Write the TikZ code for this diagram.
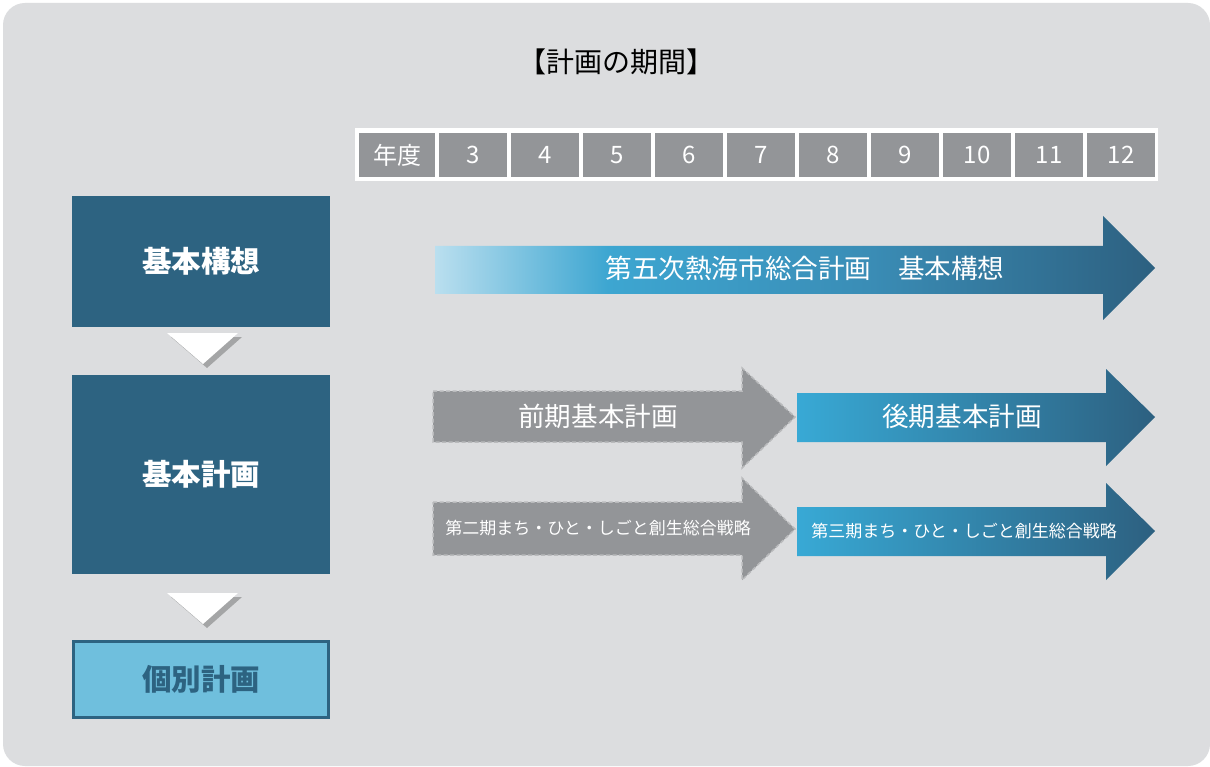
\documentclass[tikz,border=0pt]{standalone}
\usepackage{fontspec}
\setmainfont{Noto Sans CJK JP}
\usetikzlibrary{shadows}
\definecolor{bg}{HTML}{DCDDDF}
\definecolor{navy}{HTML}{2D6381}
\definecolor{skybox}{HTML}{6FBFDD}
\definecolor{cellgray}{HTML}{939598}
\definecolor{dashgray}{HTML}{B9BABC}
\definecolor{topA}{HTML}{BADFEF}
\definecolor{topB}{HTML}{3DA6D1}
\definecolor{topC}{HTML}{3A8DB6}
\definecolor{topD}{HTML}{2D6080}
\definecolor{arrA}{HTML}{38A9D5}
\definecolor{arrB}{HTML}{2D6080}
\pgfdeclarehorizontalshading{topgrad}{100bp}{color(0bp)=(topA); color(25bp)=(topA); color(37bp)=(topB); color(55bp)=(topC); color(75bp)=(topD); color(100bp)=(topD)}
\tikzset{
  cell/.style={fill=cellgray, text=white, minimum height=44, inner sep=0, font=\fontsize{24}{24}\selectfont},
  mainbox/.style={fill=navy, text=white, minimum width=258, inner sep=0, font=\fontsize{29.5}{29.5}\selectfont\bfseries},
  graybar/.style={fill=cellgray, draw=dashgray, line width=1.5pt, dash pattern=on 4pt off 2.5pt},
  bluebar/.style={left color=arrA, right color=arrB},
  bigtxt/.style={text=white, font=\fontsize{26.6}{26.6}\selectfont},
  smalltxt/.style={text=white, font=\fontsize{17}{17}\selectfont},
  downtri/.style={fill=white, drop shadow={opacity=0.6, shadow xshift=4pt, shadow yshift=-4pt}}
}
\begin{document}
\begin{tikzpicture}[x=1pt,y=-1pt]
\useasboundingbox (0,0) rectangle (1210,767);
\fill[white] (0,0) rectangle (1210,767);
\fill[bg, rounded corners=22pt] (3,3) rectangle (1210,766);
% title
\node[font=\fontsize{28}{28}\selectfont] (title) at (616,62) {【計画の期間】};
% year table
\fill[white] (355,128) rectangle (1158,181);
\node[cell, minimum width=76] (y0) at (397,155) {年度};
\foreach \n [count=\i from 0] in {3,...,12}{
  \node[cell, minimum width=68] (y\n) at (473+72*\i,155) {\n};
}
% left boxes
\node[mainbox, minimum height=131] (kousou) at (201,261.5) {基本構想};
\node[mainbox, minimum height=199] (keikaku) at (201,474.5) {基本計画};
\node[fill=skybox, draw=navy, line width=3pt, minimum width=255, minimum height=76, inner sep=0,
      text=navy, font=\fontsize{29.5}{29.5}\selectfont\bfseries] (kobetsu) at (201,679.5) {個別計画};
% down triangles
\path[downtri] (167,333) -- (238,333) -- (203,364) -- cycle;
\path[downtri] (167,593) -- (238,593) -- (203,624) -- cycle;
% top arrow
\shade[shading=topgrad] (435,246) -- (1103,246) -- (1103,216) -- (1155,268) -- (1103,320) -- (1103,294) -- (435,294) -- cycle;
\node[bigtxt] (sougou) at (805,268) {第五次熱海市総合計画　基本構想};
% gray arrows
\draw[graybar] (433,391) -- (742,391) -- (742,368) -- (795,417) -- (742,468) -- (742,442) -- (433,442) -- cycle;
\node[bigtxt] (zenki) at (598,416) {前期基本計画};
\draw[graybar] (433,502) -- (742,502) -- (742,478) -- (795,529) -- (742,580) -- (742,555) -- (433,555) -- cycle;
\node[smalltxt] (dai2) at (598,528) {第二期まち・ひと・しごと創生総合戦略};
% blue arrows
\shade[bluebar] (797,393) -- (1106,393) -- (1106,369) -- (1155,417) -- (1106,466) -- (1106,442) -- (797,442) -- cycle;
\node[bigtxt] (kouki) at (962,416) {後期基本計画};
\shade[bluebar] (797,507) -- (1106,507) -- (1106,483) -- (1155,531) -- (1106,580) -- (1106,556) -- (797,556) -- cycle;
\node[smalltxt] (dai3) at (964,531) {第三期まち・ひと・しごと創生総合戦略};
\end{tikzpicture}
\end{document}
